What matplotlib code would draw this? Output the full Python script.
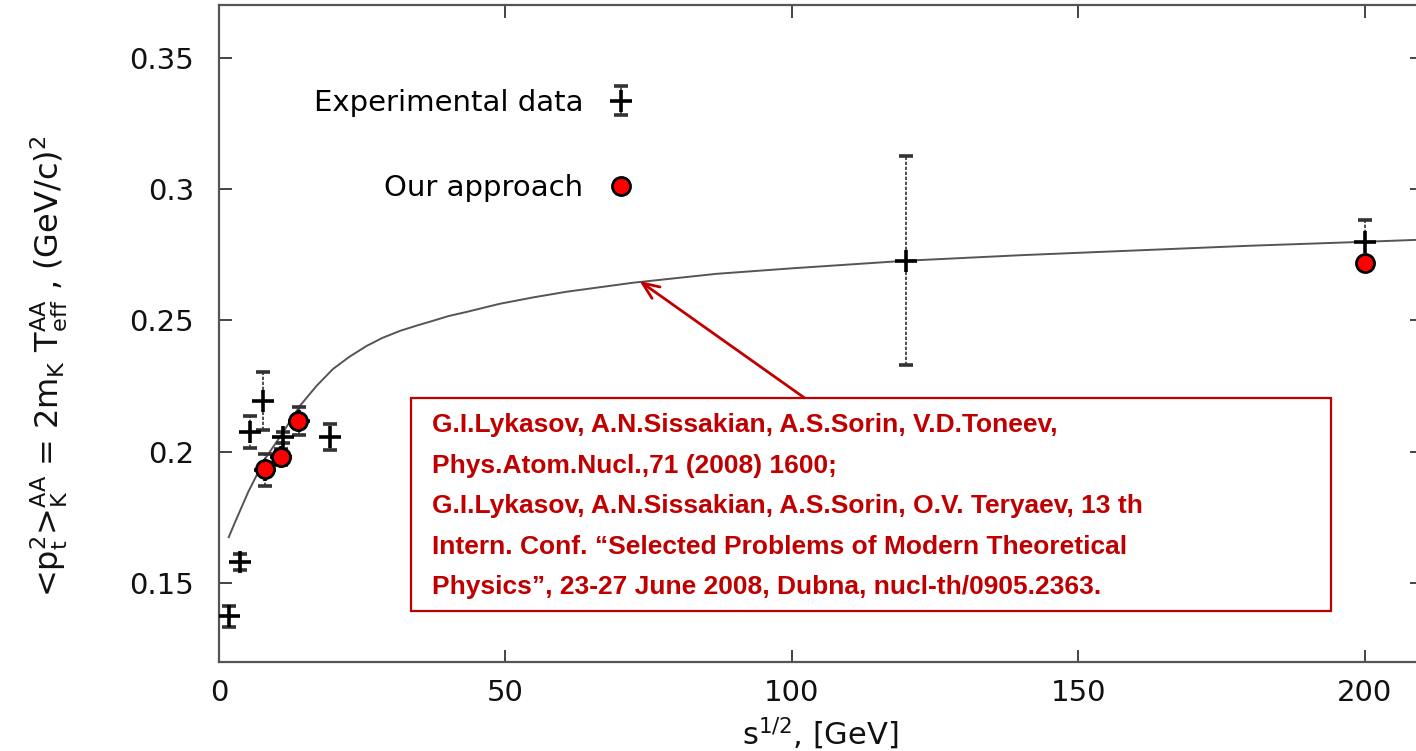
import matplotlib
matplotlib.use("Agg")
import matplotlib.pyplot as plt
from matplotlib.patches import Rectangle

# ---------------- data ----------------
exp_x = [1.7, 3.7, 5.4, 7.7, 8.0, 10.8, 11.2, 14.0, 19.4, 120.0, 200.0]
exp_y = [0.1374, 0.158, 0.2075, 0.2193, 0.193, 0.198, 0.2055, 0.2117, 0.2056, 0.2727, 0.280]
exp_err = [0.004, 0.003, 0.006, 0.011, 0.006, 0.003, 0.002, 0.0055, 0.005, 0.0398, 0.008]

model_x = [8.0, 10.8, 13.8, 200.0]
model_y = [0.1934, 0.198, 0.2117, 0.272]

curve_x = [1.7, 2.8, 5.1, 8.0, 11.0, 14.1, 17.0, 19.9, 22.8, 25.8, 28.5, 31.6, 34.5,
           37.3, 40.0, 43.2, 49.0, 55.0, 60.7, 72.2, 86.8, 100.0, 120.0, 140.0,
           160.0, 180.0, 200.0, 210.0]
curve_y = [0.1675, 0.1732, 0.1847, 0.1972, 0.2068, 0.2174, 0.2250, 0.2315, 0.2362,
           0.2403, 0.2433, 0.2460, 0.2480, 0.2498, 0.2516, 0.2532, 0.2563, 0.2588,
           0.2609, 0.2643, 0.2677, 0.2698, 0.2727, 0.2748, 0.2766, 0.2784, 0.2799,
           0.2807]

x_ticks = [0, 50, 100, 150, 200]
y_ticks = [0.15, 0.2, 0.25, 0.3, 0.35]
y_ticklabels = ["0.15", "0.2", "0.25", "0.3", "0.35"]

ref_text = ("G.I.Lykasov, A.N.Sissakian, A.S.Sorin, V.D.Toneev,\n"
            "Phys.Atom.Nucl.,71 (2008) 1600;\n"
            "G.I.Lykasov, A.N.Sissakian, A.S.Sorin, O.V. Teryaev, 13 th\n"
            "Intern. Conf. \u201cSelected Problems of Modern Theoretical\n"
            "Physics\u201d, 23-27 June 2008, Dubna, nucl-th/0905.2363.")

# ---------------- style ----------------
plt.rcParams['font.family'] = ['DejaVu Sans']
plt.rcParams['mathtext.default'] = 'regular'
RED = '#C00000'

fig = plt.figure(figsize=(14.16, 7.51), dpi=100)
ax = fig.add_axes([219 / 1416, 89 / 751, 1203 / 1416, 657 / 751])
ax.set_xlim(0, 210)
ax.set_ylim(0.12, 0.37)

# model curve
ax.plot(curve_x, curve_y, color='#555555', lw=1.4, zorder=2)

# experimental data
eb = ax.errorbar(exp_x, exp_y, yerr=exp_err, fmt='+', color='black', ms=16, mew=2.6,
                 ecolor='#333333', elinewidth=1.2, capsize=5, capthick=1.2,
                 label='Experimental data', zorder=3)
eb[2][0].set_linestyle((0, (2, 1)))

# our approach
mp, = ax.plot(model_x, model_y, 'o', ms=13, mfc='#FF0000', mec='black', mew=2.0,
              label='Our approach', zorder=4, linestyle='none')

leg = ax.legend(handles=[eb, mp], loc='upper left', bbox_to_anchor=(0.057, 0.912),
                frameon=False, markerfirst=False, fontsize=21, handlelength=1.4,
                handletextpad=0.6, labelspacing=1.95)

# reference box + arrow
ax.add_patch(Rectangle((33.5, 0.1393), 194.1 - 33.5, 0.2205 - 0.1393, fill=False,
                       edgecolor=RED, lw=1.6, zorder=5))
ax.text(37.1, 0.2147, ref_text, color=RED, fontsize=19, fontweight='bold',
        family=['Liberation Sans', 'DejaVu Sans'], va='top', ha='left',
        linespacing=1.87, zorder=6)
ax.annotate('', xy=(73.4, 0.265), xytext=(102.2, 0.2205),
            arrowprops=dict(arrowstyle='->,head_length=1.2,head_width=0.5', color=RED, lw=2.0,
                            shrinkA=0, shrinkB=0), zorder=6)

# axes styling
for side in ['left', 'bottom', 'top', 'right']:
    ax.spines[side].set_color('#555555')
    ax.spines[side].set_linewidth(1.6)
ax.set_xticks(x_ticks)
ax.set_yticks(y_ticks)
ax.set_yticklabels(y_ticklabels)
ax.tick_params(direction='in', length=9, width=1.4, color='#444444', labelsize=21,
               top=True, right=True, labelcolor='#111111')
ax.tick_params(axis='x', pad=12)
ax.tick_params(axis='y', pad=18)

ax.set_xlabel('s$^{1/2}$, [GeV]', fontsize=22, color='#111111')
ax.xaxis.set_label_coords(0.5, -0.082)
ax.set_ylabel('<p$_t^2$>$_K^{AA}$ = 2m$_K$ T$_{eff}^{AA}$ , (GeV/c)$^2$', fontsize=23,
              color='#111111')
ax.yaxis.set_label_coords(-0.124, 0.45)

fig.savefig('out.png', dpi=100)
